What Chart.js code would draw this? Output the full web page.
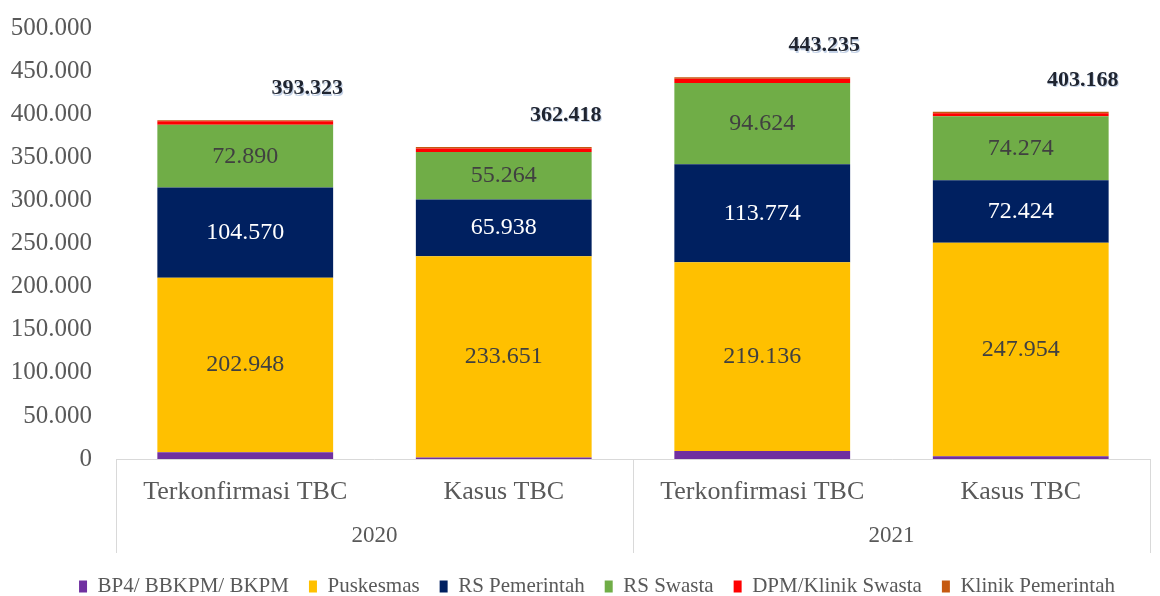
<!DOCTYPE html>
<html>
<head>
<meta charset="utf-8">
<script src="https://cdn.jsdelivr.net/npm/chart.js@4.4.1/dist/chart.umd.min.js"></script>
<style>
  html, body { margin: 0; padding: 0; background: #fff; }
  #wrap { width: 1160px; height: 596px; }
</style>
</head>
<body>
<div id="wrap"><canvas id="tbcChart"></canvas></div>
<script>
// categories and groups
const categories = ['Terkonfirmasi TBC', 'Kasus TBC', 'Terkonfirmasi TBC', 'Kasus TBC'];
const years = ['2020', '2021'];

// series values per category
const bp4 = [7700, 1800, 9300, 3300];
const puskesmas = [202948, 233651, 219136, 247954];
const rsPemerintah = [104570, 65938, 113774, 72424];
const rsSwasta = [72890, 55264, 94624, 74274];
const dpmKlinikSwasta = [4215, 3900, 4700, 3700];
const klinikPemerintah = [1000, 1865, 1701, 1516];

const serif = '"Liberation Serif", "DejaVu Serif", serif';
Chart.defaults.font.family = serif;
Chart.defaults.color = '#595959';

function fmt(v) {
    return String(Math.round(v)).replace(/\B(?=(\d{3})+(?!\d))/g, '.');
}

// labels inside segments + totals above bars
const valueLabels = {
    id: 'valueLabels',
    afterDatasetsDraw(chart) {
        const ctx = chart.ctx;
        ctx.save();
        ctx.textAlign = 'center';
        ctx.textBaseline = 'middle';
        ctx.font = '24px ' + serif;
        [1, 2, 3].forEach(di => {
            const meta = chart.getDatasetMeta(di);
            const ds = chart.data.datasets[di];
            meta.data.forEach((bar, i) => {
                ctx.fillStyle = di === 2 ? '#ffffff' : '#404040';
                ctx.fillText(fmt(ds.data[i]), bar.x, (bar.y + bar.base) / 2);
            });
        });
        // totals
        ctx.font = 'bold 22px ' + serif;
        const last = chart.getDatasetMeta(chart.data.datasets.length - 1);
        last.data.forEach((bar, i) => {
            let total = 0;
            chart.data.datasets.forEach(ds => total += ds.data[i]);
            const y = chart.scales.y.getPixelForValue(total) - 32;
            ctx.fillStyle = 'rgba(80,120,180,0.35)';
            ctx.fillText(fmt(total), bar.x + 63, y + 1.5);
            ctx.fillStyle = '#1f2430';
            ctx.fillText(fmt(total), bar.x + 62, y);
        });
        ctx.restore();
    }
};

// year row and separator lines under x axis; legend nudged
const groupAxis = {
    id: 'groupAxis',
    afterLayout(chart) {
        chart.legend.top += 11;
        chart.legend.bottom += 11;
        chart.legend.left += 22;
        chart.legend.right += 22;
    },
    afterDraw(chart) {
        const ctx = chart.ctx;
        const area = chart.chartArea;
        const xs = chart.scales.x;
        const mid = (xs.getPixelForValue(1) + xs.getPixelForValue(2)) / 2;
        const bottom = area.bottom + 94;
        ctx.save();
        ctx.strokeStyle = '#d9d9d9';
        ctx.lineWidth = 1;
        [area.left, mid, area.right].forEach(x => {
            ctx.beginPath();
            ctx.moveTo(Math.round(x) + 0.5, area.bottom);
            ctx.lineTo(Math.round(x) + 0.5, bottom);
            ctx.stroke();
        });
        ctx.fillStyle = '#595959';
        ctx.font = '23px ' + serif;
        ctx.textAlign = 'center';
        ctx.textBaseline = 'middle';
        ctx.fillText(years[0], (area.left + mid) / 2, area.bottom + 77);
        ctx.fillText(years[1], (mid + area.right) / 2, area.bottom + 77);
        ctx.restore();
    }
};

const ctx = document.getElementById('tbcChart').getContext('2d');
new Chart(ctx, {
    type: 'bar',
    data: {
        labels: categories,
        datasets: [
            { label: 'BP4/ BBKPM/ BKPM', data: bp4, backgroundColor: '#7030A0' },
            { label: 'Puskesmas', data: puskesmas, backgroundColor: '#FFC000' },
            { label: 'RS Pemerintah', data: rsPemerintah, backgroundColor: '#002060' },
            { label: 'RS Swasta', data: rsSwasta, backgroundColor: '#70AD47' },
            { label: 'DPM/Klinik Swasta', data: dpmKlinikSwasta, backgroundColor: '#FF0000' },
            { label: 'Klinik Pemerintah', data: klinikPemerintah, backgroundColor: '#C55A11' }
        ]
    },
    options: {
        responsive: true,
        maintainAspectRatio: false,
        animation: false,
        layout: { padding: { top: 6, right: 10, left: 0, bottom: 0 } },
        datasets: { bar: { categoryPercentage: 0.68, barPercentage: 1.0 } },
        scales: {
            x: {
                stacked: true,
                grid: { display: false },
                border: { display: true, color: '#d9d9d9' },
                ticks: { font: { size: 26 }, color: '#595959', padding: 10, maxRotation: 0 },
                afterFit(scale) { scale.height = 86; }
            },
            y: {
                stacked: true,
                min: 0,
                max: 500000,
                grid: { display: false },
                border: { display: false },
                ticks: {
                    stepSize: 50000,
                    font: { size: 25, lineHeight: 1 },
                    color: '#595959',
                    padding: 16,
                    callback: v => fmt(v)
                },
                afterFit(scale) { scale.width = 116; }
            }
        },
        plugins: {
            legend: {
                position: 'bottom',
                labels: {
                    boxWidth: 8,
                    boxHeight: 12,
                    padding: 20,
                    font: { size: 21 },
                    color: '#595959'
                }
            },
            tooltip: { enabled: false }
        }
    },
    plugins: [valueLabels, groupAxis]
});
</script>
</body>
</html>
